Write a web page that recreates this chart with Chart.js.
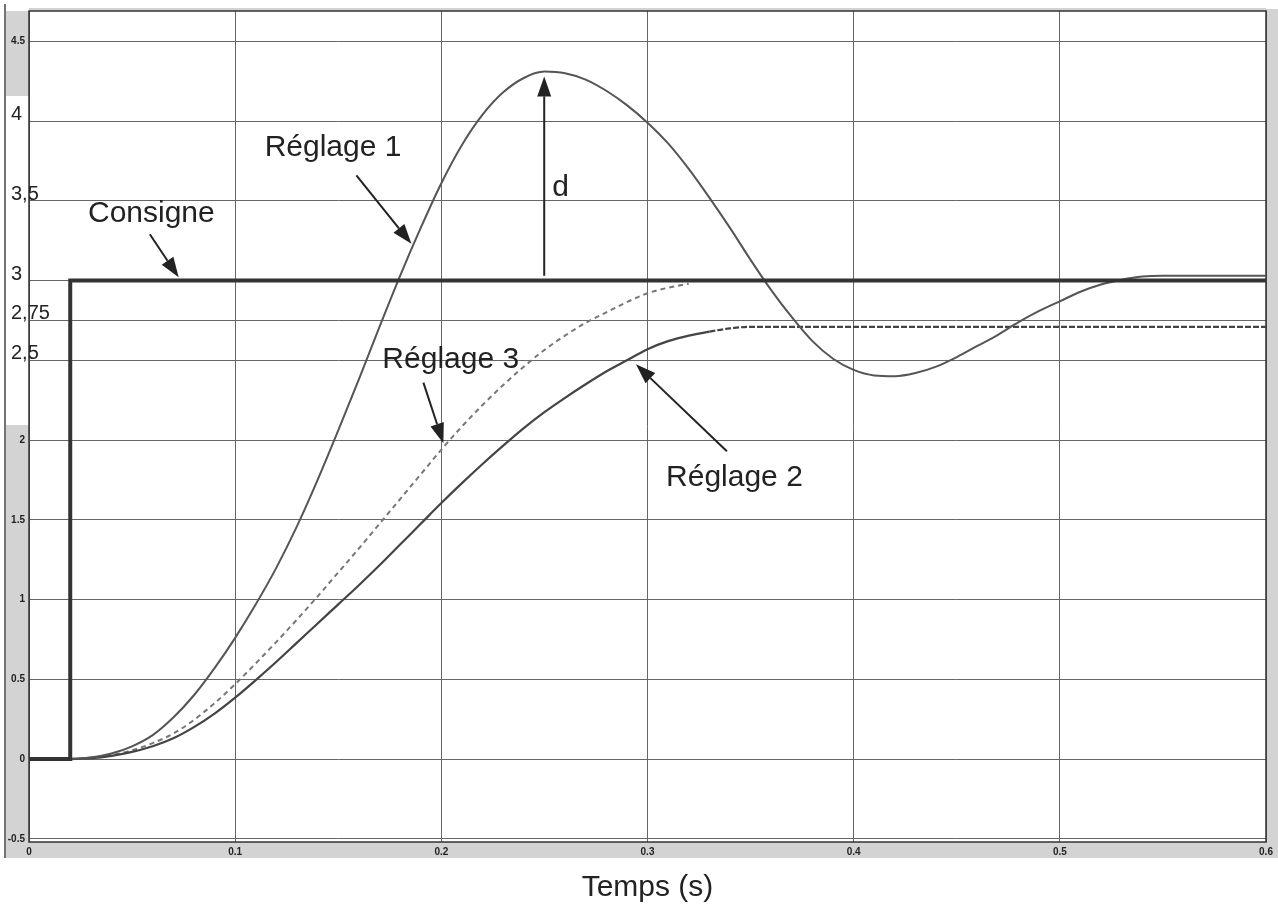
<!DOCTYPE html>
<html>
<head>
<meta charset="utf-8">
<title>Réglages</title>
<script src="https://cdn.jsdelivr.net/npm/chart.js"></script>
<style>
  html, body { margin: 0; padding: 0; background: #fff; }
  canvas { display: block; }
</style>
</head>
<body>
<canvas id="myChart" width="1278" height="913"></canvas>
<script>
// consigne (step)
const consigneTimes = [0, 0.02, 0.02, 0.6];
const consigneValues = [0, 0, 3, 3];

// Réglage 1
const times1 = [0.02, 0.03, 0.04, 0.05, 0.06, 0.07, 0.08, 0.09, 0.10, 0.11, 0.12, 0.13, 0.14, 0.15, 0.16, 0.17, 0.18, 0.19,
  0.20, 0.21, 0.22, 0.23, 0.24, 0.25, 0.26, 0.27, 0.28, 0.29, 0.30, 0.31, 0.32, 0.33, 0.34, 0.35, 0.36, 0.37, 0.38, 0.39,
  0.40, 0.41, 0.42, 0.43, 0.44, 0.45, 0.46, 0.47, 0.48, 0.49, 0.50, 0.51, 0.52, 0.53, 0.54, 0.55, 0.60];
const reglage1 = [0, 0.01, 0.035, 0.08, 0.15, 0.26, 0.40, 0.57, 0.76, 0.97, 1.20, 1.46, 1.75, 2.06, 2.38, 2.71, 3.03, 3.33,
  3.61, 3.85, 4.04, 4.18, 4.27, 4.31, 4.30, 4.26, 4.19, 4.10, 3.99, 3.86, 3.70, 3.52, 3.33, 3.13, 2.94, 2.77, 2.62, 2.51,
  2.44, 2.405, 2.40, 2.42, 2.46, 2.52, 2.59, 2.66, 2.74, 2.81, 2.87, 2.93, 2.975, 3.005, 3.025, 3.03, 3.03];

// Réglage 2
const times2 = [0.02, 0.03, 0.04, 0.05, 0.06, 0.07, 0.08, 0.09, 0.10, 0.11, 0.12, 0.13, 0.14, 0.15, 0.16, 0.17, 0.18, 0.19,
  0.20, 0.21, 0.22, 0.23, 0.24, 0.25, 0.26, 0.27, 0.28, 0.29, 0.30, 0.31, 0.32, 0.33, 0.34, 0.35, 0.60];
const reglage2 = [0, 0.005, 0.02, 0.045, 0.08, 0.13, 0.20, 0.285, 0.385, 0.495, 0.61, 0.73, 0.85, 0.97, 1.09, 1.215, 1.345, 1.475,
  1.605, 1.73, 1.85, 1.965, 2.075, 2.175, 2.265, 2.35, 2.43, 2.50, 2.57, 2.62, 2.655, 2.68, 2.70, 2.71, 2.71];

// Réglage 3
const times3 = [0.02, 0.03, 0.04, 0.05, 0.06, 0.07, 0.08, 0.09, 0.10, 0.11, 0.12, 0.13, 0.14, 0.15, 0.16, 0.17, 0.18, 0.19,
  0.20, 0.21, 0.22, 0.23, 0.24, 0.25, 0.26, 0.27, 0.28, 0.29, 0.30, 0.31, 0.32];
const reglage3 = [0, 0.01, 0.025, 0.055, 0.10, 0.16, 0.245, 0.35, 0.47, 0.60, 0.735, 0.875, 1.02, 1.17, 1.32, 1.475, 1.63, 1.785,
  1.94, 2.085, 2.22, 2.345, 2.46, 2.565, 2.655, 2.735, 2.80, 2.865, 2.92, 2.955, 2.98];

// ticks
const xTickValues = [0, 0.1, 0.2, 0.3, 0.4, 0.5, 0.6];
const xTickLabels = ['0', '0.1', '0.2', '0.3', '0.4', '0.5', '0.6'];
const yTickValues = [-0.5, 0, 0.5, 1, 1.5, 2, 2.5, 2.75, 3, 3.5, 4, 4.5];
const yTickLabels = ['-0.5', '0', '0.5', '1', '1.5', '2', '2,5', '2,75', '3', '3,5', '4', '4.5'];
const handTicks = [2.5, 2.75, 3, 3.5, 4]; // written by hand on the scan, bigger

// annotations, in data units
const notes = [
  { text: 'Réglage 1', x: 0.1143, y: 3.78 },
  { text: 'Consigne', x: 0.0286, y: 3.37 },
  { text: 'Réglage 3', x: 0.1714, y: 2.45 },
  { text: 'Réglage 2', x: 0.309, y: 1.71 },
  { text: 'd', x: 0.2538, y: 3.53 }
];
const arrows = [
  { x0: 0.1588, y0: 3.66, x1: 0.1855, y1: 3.23 },
  { x0: 0.0586, y0: 3.29, x1: 0.0726, y1: 3.02 },
  { x0: 0.1913, y0: 2.36, x1: 0.2010, y1: 1.98 },
  { x0: 0.3385, y0: 1.93, x1: 0.2944, y1: 2.475 },
  { x0: 0.2499, y0: 3.03, x1: 0.2499, y1: 4.28 }
];

const toPoints = (xs, ys) => xs.map((x, i) => ({ x: x, y: ys[i] }));
const FONT = '"Liberation Sans", Arial, sans-serif';

const scanBackground = {
  id: 'scanBackground',
  beforeDraw(chart) {
    const c = chart.ctx;
    const a = chart.chartArea;
    c.save();
    c.fillStyle = '#fff';
    c.fillRect(0, 0, chart.width, chart.height);
    c.fillStyle = '#d3d3d3';
    c.fillRect(6, a.top, a.left - 6, 96 - a.top);
    c.fillRect(6, 425, a.left - 6, a.bottom - 425);
    c.fillRect(6, a.bottom, chart.width - 6, 16);
    c.fillRect(a.right, a.top - 2, chart.width - a.right, a.bottom - a.top + 18);
    c.fillRect(a.left, a.top - 3, a.right - a.left, 3);
    c.strokeStyle = '#444';
    c.lineWidth = 1.5;
    c.beginPath();
    c.moveTo(5, 4);
    c.lineTo(5, a.bottom + 16);
    c.stroke();
    c.restore();
  },
  beforeDatasetsDraw(chart) {
    const c = chart.ctx;
    const a = chart.chartArea;
    c.save();
    c.strokeStyle = '#333';
    c.lineWidth = 1.5;
    c.strokeRect(a.left, a.top, a.right - a.left, a.bottom - a.top);
    c.restore();
  },
  afterDraw(chart) {
    const c = chart.ctx;
    const xs = chart.scales.x;
    const ys = chart.scales.y;
    c.save();
    // hand written tick labels
    c.fillStyle = '#222';
    c.font = '20px ' + FONT;
    c.textAlign = 'left';
    c.textBaseline = 'alphabetic';
    handTicks.forEach(v => {
      const label = yTickLabels[yTickValues.indexOf(v)];
      c.fillText(label, 11, ys.getPixelForValue(v) - 1);
    });
    // notes
    c.font = '30px ' + FONT;
    notes.forEach(n => {
      c.fillText(n.text, xs.getPixelForValue(n.x), ys.getPixelForValue(n.y));
    });
    // arrows
    c.strokeStyle = '#222';
    c.lineWidth = 2;
    arrows.forEach(ar => {
      const px0 = xs.getPixelForValue(ar.x0), py0 = ys.getPixelForValue(ar.y0);
      const px1 = xs.getPixelForValue(ar.x1), py1 = ys.getPixelForValue(ar.y1);
      const ang = Math.atan2(py1 - py0, px1 - px0);
      const len = 20, half = 7;
      const bx = px1 - len * Math.cos(ang), by = py1 - len * Math.sin(ang);
      c.beginPath();
      c.moveTo(px0, py0);
      c.lineTo(bx, by);
      c.stroke();
      c.beginPath();
      c.moveTo(px1, py1);
      c.lineTo(bx + half * Math.sin(ang), by - half * Math.cos(ang));
      c.lineTo(bx - half * Math.sin(ang), by + half * Math.cos(ang));
      c.closePath();
      c.fill();
    });
    c.restore();
  }
};

const ctx = document.getElementById('myChart').getContext('2d');
const myChart = new Chart(ctx, {
  type: 'line',
  data: {
    datasets: [{
      label: 'Consigne',
      data: toPoints(consigneTimes, consigneValues),
      borderColor: '#333',
      borderWidth: 4,
      tension: 0,
      pointRadius: 0
    }, {
      label: 'Réglage 1',
      data: toPoints(times1, reglage1),
      borderColor: '#555',
      borderWidth: 2,
      cubicInterpolationMode: 'monotone',
      pointRadius: 0
    }, {
      label: 'Réglage 2',
      data: toPoints(times2, reglage2),
      borderColor: '#444',
      borderWidth: 2.2,
      cubicInterpolationMode: 'monotone',
      pointRadius: 0,
      segment: {
        borderDash: c => c.p0.parsed.x >= 0.33 ? [6, 2] : undefined
      }
    }, {
      label: 'Réglage 3',
      data: toPoints(times3, reglage3),
      borderColor: '#777',
      borderWidth: 2,
      borderDash: [5, 4],
      cubicInterpolationMode: 'monotone',
      pointRadius: 0
    }]
  },
  options: {
    responsive: false,
    animation: false,
    layout: { padding: { left: 5, right: 12, top: 11, bottom: 0 } },
    plugins: {
      legend: { display: false },
      tooltip: { enabled: false }
    },
    scales: {
      x: {
        type: 'linear',
        min: 0,
        max: 0.6,
        afterBuildTicks: s => { s.ticks = xTickValues.map(v => ({ value: v })); },
        ticks: {
          callback: (v, i) => xTickLabels[i],
          font: { family: FONT, size: 10, weight: 'bold' },
          color: '#222',
          padding: 4,
          maxRotation: 0,
          autoSkip: false
        },
        grid: { color: '#666', lineWidth: 1, drawTicks: false },
        border: { display: false },
        title: {
          display: true,
          text: 'Temps (s)',
          color: '#222',
          font: { family: FONT, size: 30 },
          padding: { top: 8, bottom: 7 }
        }
      },
      y: {
        type: 'linear',
        min: -0.52,
        max: 4.69,
        afterBuildTicks: s => { s.ticks = yTickValues.map(v => ({ value: v })); },
        afterFit: s => { s.width = 24; },
        ticks: {
          callback: (v, i) => handTicks.includes(yTickValues[i]) ? '' : yTickLabels[i],
          font: { family: FONT, size: 10, weight: 'bold' },
          color: '#222',
          padding: 4,
          autoSkip: false
        },
        grid: { color: '#666', lineWidth: 1, drawTicks: false },
        border: { display: false }
      }
    }
  },
  plugins: [scanBackground]
});
</script>
</body>
</html>
